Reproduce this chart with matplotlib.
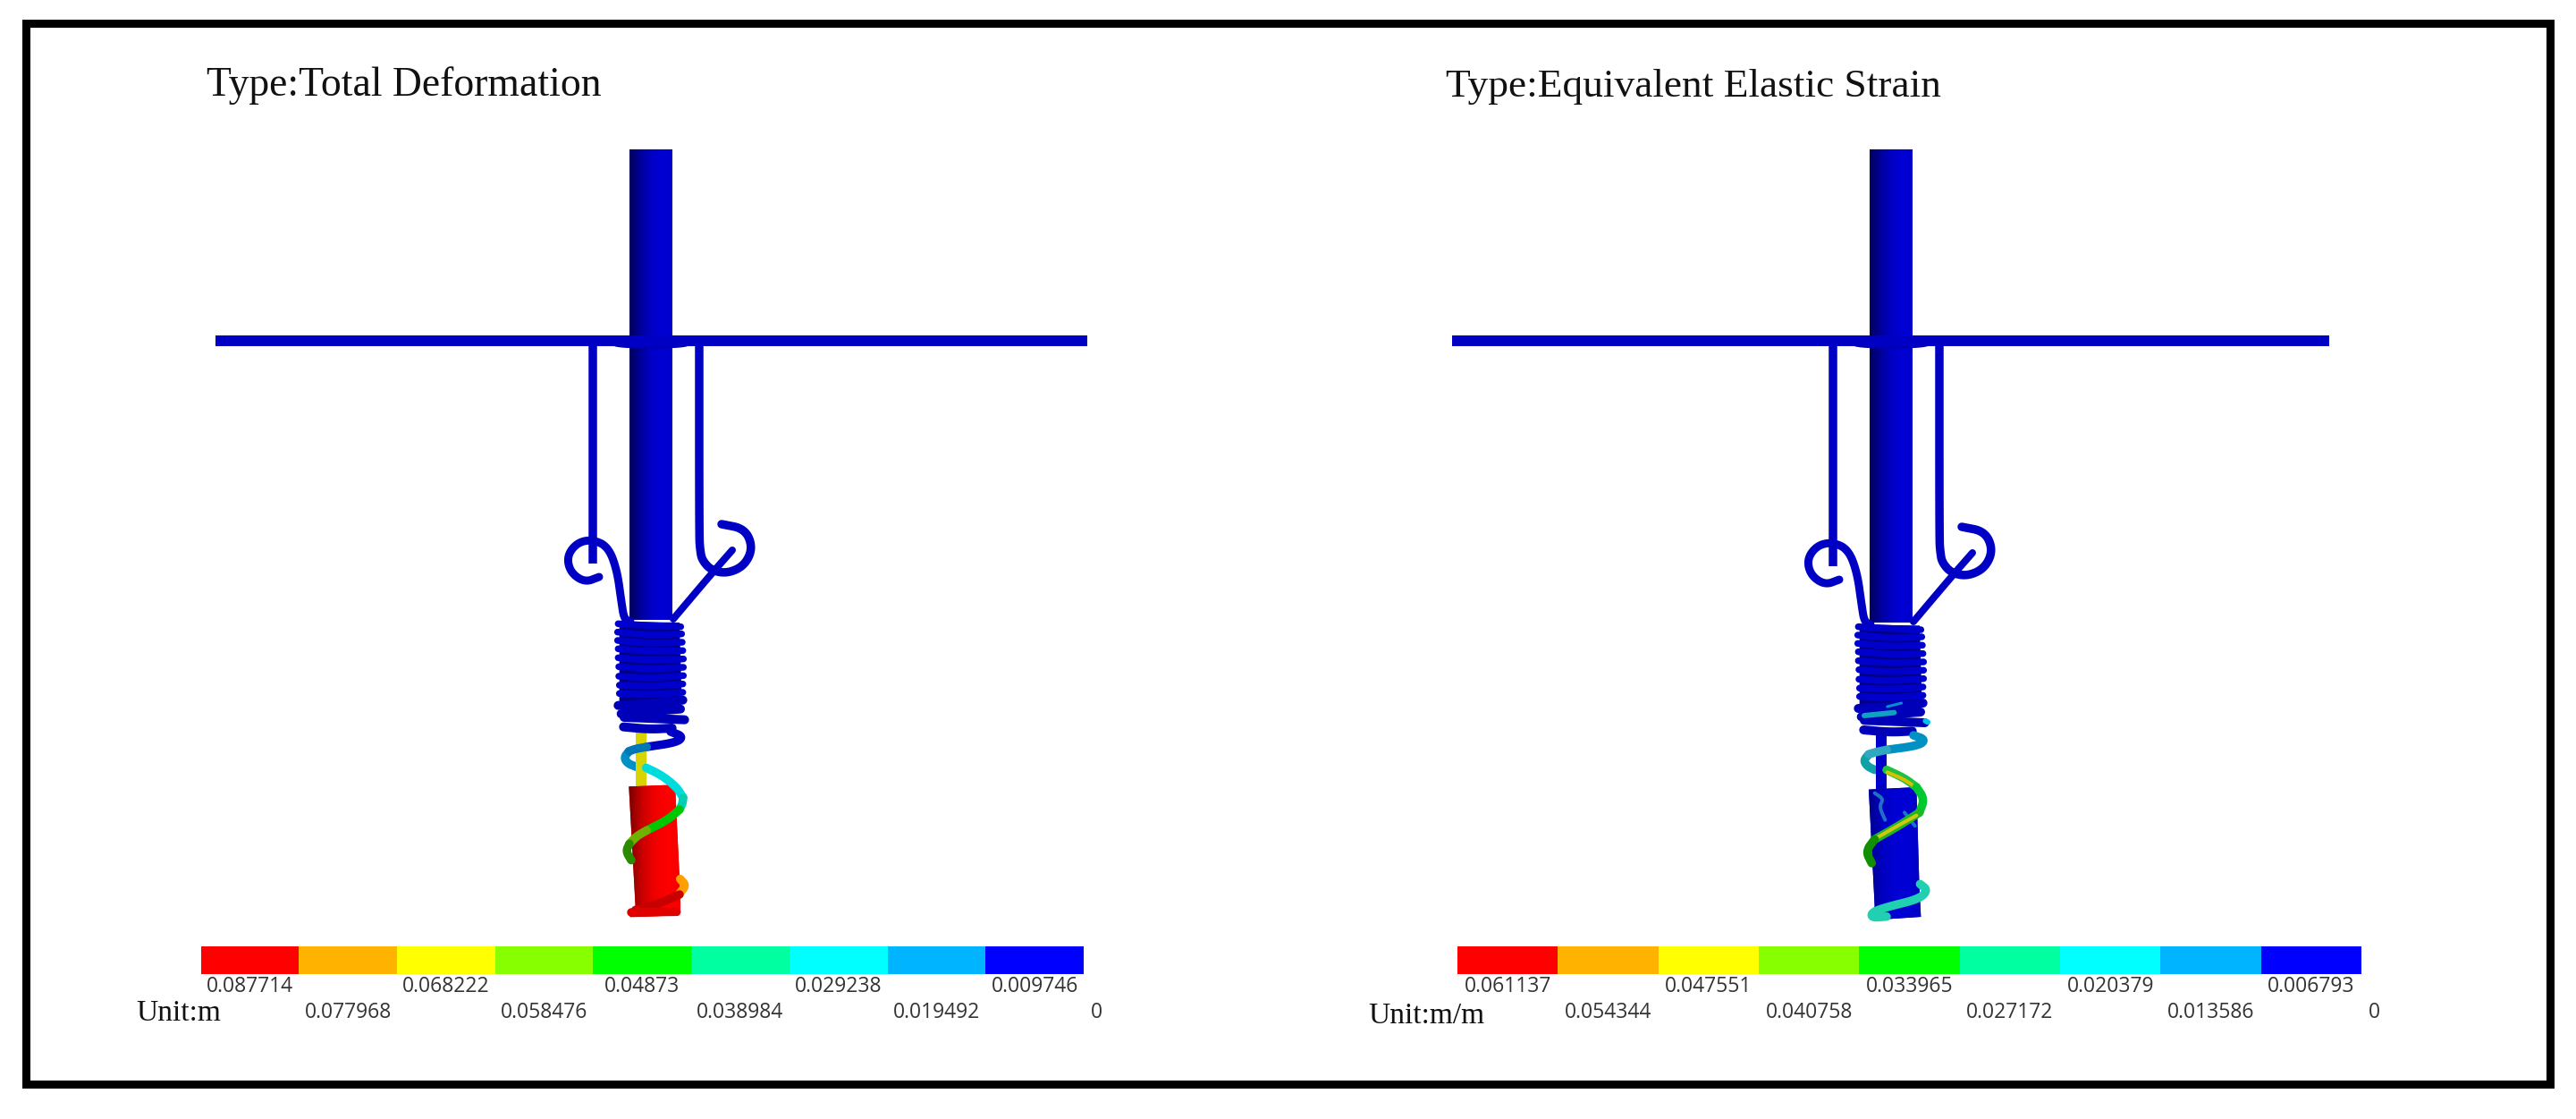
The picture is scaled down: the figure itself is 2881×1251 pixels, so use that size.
import numpy as np
import matplotlib
matplotlib.use("Agg")
import matplotlib.pyplot as plt
from matplotlib.colors import LinearSegmentedColormap
from matplotlib.patches import Polygon, Rectangle, Ellipse

W, H, DPI = 2881, 1251, 100

# legend bands, red (high) to blue (low)
band_colors = ["#ff0000", "#ffb300", "#ffff00", "#88ff00", "#00ff00",
               "#00ffa0", "#00ffff", "#00b4ff", "#0000ff"]
deform_labels = ["0.087714", "0.077968", "0.068222", "0.058476", "0.04873",
                 "0.038984", "0.029238", "0.019492", "0.009746", "0"]
strain_labels = ["0.061137", "0.054344", "0.047551", "0.040758", "0.033965",
                 "0.027172", "0.020379", "0.013586", "0.006793", "0"]

BLUE = "#0000c4"

# model outline, image pixels of the left panel
left_drop = [(663, 380), (663, 630)]
left_hook = [(670, 645), (654, 651), (638, 640), (634, 622), (645, 607), (662, 603),
             (680, 611), (690, 637), (695, 673), (698, 692), (705, 695)]
right_hook = [(782, 384), (782, 600), (783, 614), (785, 626), (796, 638), (814, 641),
              (833, 632), (842, 612), (833, 591), (807, 586)]
right_brace = [(819, 615), (797, 640), (753, 692)]

# spring and weight, 3x crop coordinates (crop origin given per panel)
coil_rows = [[(394, 112), (500, 118), (604, 122)], [(392, 140), (500, 150), (607, 146)],
             [(392, 168), (500, 178), (609, 174)], [(394, 196), (500, 205), (611, 202)],
             [(394, 226), (500, 234), (613, 230)], [(396, 256), (500, 264), (613, 258)],
             [(396, 288), (500, 294), (613, 286)], [(398, 318), (500, 322), (611, 314)],
             [(398, 346), (500, 350), (611, 342)], [(394, 386), (500, 380), (611, 368)],
             [(404, 414), (500, 406), (603, 398)], [(414, 426), (520, 430), (617, 434)],
             [(412, 458), (500, 466), (575, 462)]]
coil_backing = [(398, 105), (600, 108), (607, 350), (600, 400), (412, 430), (398, 390)]

deform_tail_back = [("#0090c8", [(430, 540), (414, 560), (425, 580), (455, 592)])]
deform_tail_front = [
    (BLUE, [(570, 474), (612, 490), (590, 510), (490, 525)]),
    ("#0078b8", [(490, 525), (450, 532), (430, 540)]),
    ("#00dcdc", [(488, 595), (540, 620), (590, 660), (612, 695)]),
    ("#00d0b0", [(612, 695), (610, 715), (600, 735)]),
    ("#00c800", [(600, 735), (560, 770), (490, 805)]),
    ("#70b000", [(490, 805), (455, 825), (432, 850)]),
    ("#2a8a00", [(432, 850), (420, 875), (438, 905)]),
    ("#ffa000", [(602, 968), (622, 990), (600, 1016)]),
    ("#c80000", [(600, 1020), (520, 1055), (452, 1072)]),
    ("#e00000", [(438, 1080), (590, 1078)]),
]
deform_cylinder = [(430, 658), (585, 652), (600, 965), (603, 1065), (598, 1090),
                   (435, 1096), (428, 1078), (452, 1060)]

strain_tail_back = [("#10a0a8", [(420, 550), (403, 570), (415, 590), (440, 602)])]
strain_tail_front = [
    ("#0090c4", [(570, 486), (610, 500), (590, 520), (480, 535)]),
    ("#30a8c0", [(480, 535), (445, 542), (420, 550)]),
    ("#20c040", [(480, 602), (540, 630), (580, 660)]),
    ("#d8c000", [(482, 610), (535, 632), (570, 655)]),
    ("#00c830", [(580, 660), (607, 700), (590, 745)]),
    ("#20b820", [(590, 745), (520, 790), (440, 835)]),
    ("#d0c810", [(580, 755), (520, 788), (450, 828)]),
    ("#109000", [(440, 835), (410, 875), (430, 915)]),
    ("#20d0b0", [(592, 985), (618, 1005), (590, 1035), (480, 1062), (430, 1080),
                 (430, 1098), (480, 1094)]),
    ("#10a0c0", [(405, 420), (505, 410)]),
    ("#0090d0", [(482, 390), (530, 378)]),
    ("#00c0f0", [(610, 438), (618, 442)]),
]
strain_thin = {"#d8c000": 4, "#d0c810": 4, "#10a0c0": 6, "#0090d0": 3, "#00c0f0": 6}
strain_cylinder = [(420, 668), (580, 660), (590, 1000), (595, 1095),
                   (430, 1106), (420, 1090), (440, 1060)]
strain_patches = [[(440, 680), (470, 700), (455, 725), (475, 770)], [(540, 745), (575, 790)]]


def smooth(points, rounds=3):
    # corner cutting, keeps both ends
    pts = np.array(points, dtype=float)
    for _ in range(rounds):
        q = 0.75 * pts[:-1] + 0.25 * pts[1:]
        r = 0.25 * pts[:-1] + 0.75 * pts[1:]
        mid = np.empty((2 * len(q), 2))
        mid[0::2] = q
        mid[1::2] = r
        pts = np.vstack([pts[0], mid, pts[-1]])
    return pts


def px(n):
    return n * 72 / DPI


def tube(ax, pts, color, width, z=3, cap="round"):
    pts = smooth(pts) if len(pts) > 2 else np.array(pts, dtype=float)
    ax.plot(pts[:, 0], pts[:, 1], color=color, lw=px(width), solid_capstyle=cap,
            solid_joinstyle="round", zorder=z)


def crop(points, x0, y0):
    return [(x0 + x / 3, y0 + y / 3) for x, y in points]


def gradient_fill(ax, extent, colors, z, clip=None):
    cmap = LinearSegmentedColormap.from_list("shade", colors)
    im = ax.imshow(np.linspace(0, 1, 200)[None, :], cmap=cmap, extent=extent,
                   aspect="auto", zorder=z, interpolation="bilinear")
    if clip is not None:
        im.set_clip_path(clip)


def draw_model(ax, dx, dy, bar_x, crop_x, tail_back, tail_front, cylinder, rod, cyl_shade, thin=None):
    thin = thin or {}
    shift = lambda pts: [(x + dx, y + dy) for x, y in pts]
    # mast and crossbar
    gradient_fill(ax, (704 + dx, 752 + dx, 693 + dy, 167),
                  ["#00005a", "#000098", "#0000c4", "#0000d4", "#0000cc"], 2)
    ax.plot(bar_x, [380.5, 380.5], color=BLUE, lw=px(12), solid_capstyle="butt", zorder=4)
    ax.add_patch(Ellipse((728 + dx, 386), 82, 6, color="#0000b0", zorder=3))
    # hangers
    tube(ax, shift(left_drop), BLUE, 9.5, z=3, cap="butt")
    tube(ax, shift(left_hook), BLUE, 9)
    tube(ax, shift(right_hook), BLUE, 9.5)
    tube(ax, shift(right_brace), BLUE, 8)

    # rod
    ax.plot([716.5 + dx, 716.5 + dx], [818, 880 + dy], color=rod,
            lw=px(12), solid_capstyle="butt", zorder=5)
    for color, seg in tail_back:
        tube(ax, crop(seg, crop_x, 660), color, 9.5, z=4)

    # spring body
    off = 10 if dx else 0
    body_x = 560 + dx + off / 3
    ax.add_patch(Polygon(crop([(x - off, y + off) for x, y in coil_backing], body_x, 660),
                         closed=True, facecolor="#000084", edgecolor="none", zorder=5.5))
    for row in coil_rows[:-4]:
        row = [(x - off, y + off) for x, y in row]
        tube(ax, crop(row, body_x, 660), "#0000cc", 7.5, z=6)
    for row in coil_rows[-4:]:
        row = [(x - off, y + off) for x, y in row]
        tube(ax, crop(row, body_x, 660), "#0000b8", 10, z=6)

    # weight, clipped gradient
    poly = Polygon(crop(cylinder, crop_x, 660), closed=True, transform=ax.transData,
                   facecolor=cyl_shade[-1], edgecolor="none", zorder=6)
    ax.add_patch(poly)
    xs = [p[0] for p in crop(cylinder, crop_x, 660)]
    ys = [p[1] for p in crop(cylinder, crop_x, 660)]
    gradient_fill(ax, (min(xs), max(xs), max(ys), min(ys)), cyl_shade, 6.5, clip=poly)

    for color, seg in tail_front:
        tube(ax, crop(seg, crop_x, 660), color, thin.get(color, 9.5), z=7)


def draw_legend(fig, box, labels, unit, unit_xy):
    left, right = box
    cax = fig.add_axes([left / W, 1 - 1089 / H, (right - left) / W, 31 / H])
    cax.bar(np.arange(9) + 0.5, np.ones(9), width=1.0, color=band_colors)
    cax.set_xlim(0, 9)
    cax.set_ylim(0, 1)
    cax.axis("off")
    trans = cax.get_xaxis_transform()
    for i, lab in enumerate(labels):
        xpos = i + 0.5 if i < 9 else 9.13
        ypos = -0.45 if i % 2 == 0 else -1.39
        cax.text(xpos, ypos, lab, transform=trans, ha="center", va="center",
                 family="Open Sans", fontsize=16.5, color="#333333", clip_on=False)
    fig.text(unit_xy[0] / W, 1 - unit_xy[1] / H, unit, family="Liberation Serif",
             fontsize=24, color="#111111", ha="left", va="baseline")


fig = plt.figure(figsize=(W / DPI, H / DPI), dpi=DPI, facecolor="white")
ax = fig.add_axes([0, 0, 1, 1])

# outer frame
ax.add_patch(Rectangle((28.5, 26), 2823, 1186, fill=False, edgecolor="black", lw=px(9), zorder=1))

draw_model(ax, 0, 0, [241, 1216], 560, deform_tail_back, deform_tail_front, deform_cylinder,
           "#d8d400", ["#780000", "#c80000", "#f00000", "#ff0000", "#f40000"])
draw_model(ax, 1387, 3, [1624, 2605], 1950, strain_tail_back, strain_tail_front, strain_cylinder,
           "#0000c8", ["#00008a", "#0000c0", "#0000d4", "#0000d4", "#0000c0"], thin=strain_thin)
for pts in strain_patches:
    tube(ax, crop(pts, 1950, 660), "#2070c8", 4, z=6.8)

ax.set_xlim(0, W)
ax.set_ylim(H, 0)
ax.axis("off")

ax.text(231, 107, "Type:Total Deformation", family="Liberation Serif", fontsize=32.85,
        color="#111111", va="baseline")
ax.text(1617, 108, "Type:Equivalent Elastic Strain", family="Liberation Serif", fontsize=32.7,
        color="#111111", va="baseline")

draw_legend(fig, (224.5, 1212), deform_labels, "Unit:m", (152, 1141))
draw_legend(fig, (1630, 2641), strain_labels, "Unit:m/m", (1530, 1144))

fig.savefig("out.png", dpi=DPI, facecolor="white")
